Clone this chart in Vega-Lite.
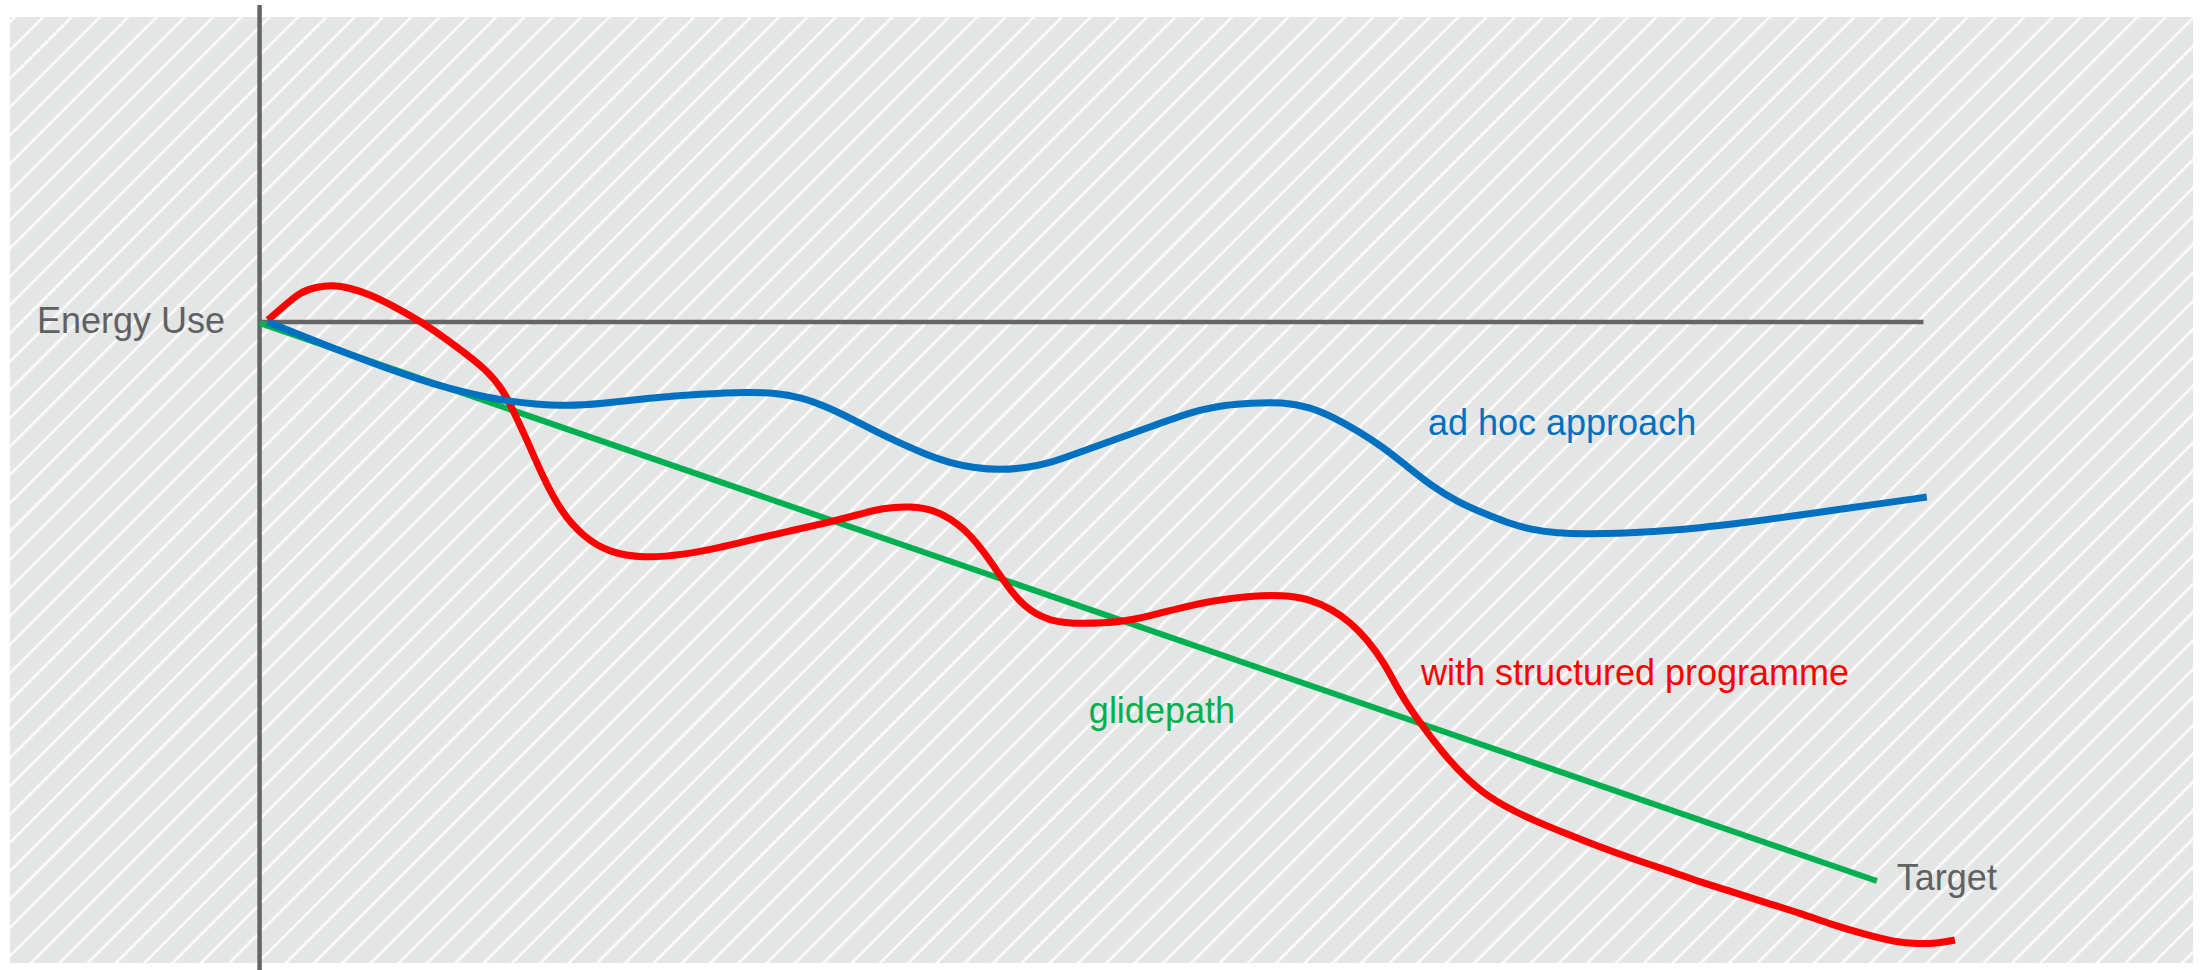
{
"$schema": "https://vega.github.io/schema/vega-lite/v6.json",
"width": 2183,
"height": 946,
"autosize": {"type": "none"},
"padding": {"left": 10, "top": 17, "right": 10, "bottom": 7},
"background": "#ffffff",
"config": {"view": {"stroke": null}},
"datasets": {
"frame": [{"id": 1}],
"curves": [
{"series":"glidepath","x":0.02,"y":99.8},
{"series":"glidepath","x":97.2,"y":0},
{"series":"ad hoc approach","x":0.5,"y":100.0},
{"series":"ad hoc approach","x":2.43,"y":97.67},
{"series":"ad hoc approach","x":4.41,"y":95.35},
{"series":"ad hoc approach","x":6.45,"y":93.02},
{"series":"ad hoc approach","x":8.44,"y":90.88},
{"series":"ad hoc approach","x":10.42,"y":88.91},
{"series":"ad hoc approach","x":12.46,"y":87.3},
{"series":"ad hoc approach","x":14.45,"y":86.05},
{"series":"ad hoc approach","x":16.43,"y":85.33},
{"series":"ad hoc approach","x":18.47,"y":84.97},
{"series":"ad hoc approach","x":20.46,"y":85.33},
{"series":"ad hoc approach","x":23.46,"y":86.4},
{"series":"ad hoc approach","x":26.47,"y":87.12},
{"series":"ad hoc approach","x":29.47,"y":87.48},
{"series":"ad hoc approach","x":30.97,"y":87.3},
{"series":"ad hoc approach","x":32.48,"y":86.58},
{"series":"ad hoc approach","x":33.98,"y":84.97},
{"series":"ad hoc approach","x":35.48,"y":82.83},
{"series":"ad hoc approach","x":36.98,"y":80.5},
{"series":"ad hoc approach","x":38.49,"y":78.35},
{"series":"ad hoc approach","x":39.99,"y":76.39},
{"series":"ad hoc approach","x":41.49,"y":74.78},
{"series":"ad hoc approach","x":42.99,"y":73.88},
{"series":"ad hoc approach","x":44.5,"y":73.52},
{"series":"ad hoc approach","x":46.0,"y":73.88},
{"series":"ad hoc approach","x":47.5,"y":74.78},
{"series":"ad hoc approach","x":49.0,"y":76.39},
{"series":"ad hoc approach","x":50.5,"y":78.0},
{"series":"ad hoc approach","x":52.01,"y":79.61},
{"series":"ad hoc approach","x":53.51,"y":81.22},
{"series":"ad hoc approach","x":55.01,"y":82.83},
{"series":"ad hoc approach","x":56.51,"y":84.26},
{"series":"ad hoc approach","x":58.02,"y":85.15},
{"series":"ad hoc approach","x":59.52,"y":85.51},
{"series":"ad hoc approach","x":61.5,"y":85.69},
{"series":"ad hoc approach","x":63.12,"y":84.79},
{"series":"ad hoc approach","x":64.51,"y":83.01},
{"series":"ad hoc approach","x":66.01,"y":80.5},
{"series":"ad hoc approach","x":67.51,"y":77.64},
{"series":"ad hoc approach","x":69.01,"y":74.06},
{"series":"ad hoc approach","x":70.52,"y":70.48},
{"series":"ad hoc approach","x":72.02,"y":67.8},
{"series":"ad hoc approach","x":73.52,"y":65.83},
{"series":"ad hoc approach","x":75.02,"y":64.04},
{"series":"ad hoc approach","x":76.53,"y":62.79},
{"series":"ad hoc approach","x":78.03,"y":62.25},
{"series":"ad hoc approach","x":79.53,"y":62.08},
{"series":"ad hoc approach","x":81.75,"y":62.16},
{"series":"ad hoc approach","x":83.56,"y":62.43},
{"series":"ad hoc approach","x":86.56,"y":63.15},
{"series":"ad hoc approach","x":89.57,"y":64.22},
{"series":"ad hoc approach","x":92.57,"y":65.47},
{"series":"ad hoc approach","x":95.58,"y":66.73},
{"series":"ad hoc approach","x":100.2,"y":68.69},
{"series":"with structured programme","x":0.5,"y":100.36},
{"series":"with structured programme","x":1.41,"y":102.68},
{"series":"with structured programme","x":2.43,"y":105.37},
{"series":"with structured programme","x":3.39,"y":106.26},
{"series":"with structured programme","x":4.41,"y":106.62},
{"series":"with structured programme","x":5.43,"y":106.1},
{"series":"with structured programme","x":6.63,"y":104.92},
{"series":"with structured programme","x":8.02,"y":102.9},
{"series":"with structured programme","x":10.06,"y":99.46},
{"series":"with structured programme","x":11.86,"y":95.53},
{"series":"with structured programme","x":13.67,"y":91.41},
{"series":"with structured programme","x":14.63,"y":87.84},
{"series":"with structured programme","x":15.23,"y":84.26},
{"series":"with structured programme","x":16.07,"y":78.89},
{"series":"with structured programme","x":17.03,"y":72.27},
{"series":"with structured programme","x":18.05,"y":66.37},
{"series":"with structured programme","x":19.44,"y":61.54},
{"series":"with structured programme","x":21.06,"y":58.68},
{"series":"with structured programme","x":23.04,"y":57.78},
{"series":"with structured programme","x":25.44,"y":58.32},
{"series":"with structured programme","x":27.85,"y":59.75},
{"series":"with structured programme","x":29.47,"y":61.0},
{"series":"with structured programme","x":31.88,"y":62.61},
{"series":"with structured programme","x":34.28,"y":64.22},
{"series":"with structured programme","x":35.9,"y":65.47},
{"series":"with structured programme","x":37.46,"y":66.73},
{"series":"with structured programme","x":39.09,"y":67.08},
{"series":"with structured programme","x":40.71,"y":66.37},
{"series":"with structured programme","x":42.27,"y":63.33},
{"series":"with structured programme","x":43.47,"y":59.21},
{"series":"with structured programme","x":44.68,"y":53.85},
{"series":"with structured programme","x":45.88,"y":49.02},
{"series":"with structured programme","x":47.5,"y":46.33},
{"series":"with structured programme","x":49.48,"y":45.97},
{"series":"with structured programme","x":51.89,"y":46.33},
{"series":"with structured programme","x":53.51,"y":47.41},
{"series":"with structured programme","x":55.49,"y":49.02},
{"series":"with structured programme","x":57.54,"y":50.27},
{"series":"with structured programme","x":59.52,"y":50.98},
{"series":"with structured programme","x":61.5,"y":51.16},
{"series":"with structured programme","x":63.12,"y":50.45},
{"series":"with structured programme","x":64.51,"y":48.48},
{"series":"with structured programme","x":65.53,"y":46.33},
{"series":"with structured programme","x":66.55,"y":43.3},
{"series":"with structured programme","x":67.63,"y":38.9},
{"series":"with structured programme","x":68.53,"y":33.6},
{"series":"with structured programme","x":69.74,"y":28.26},
{"series":"with structured programme","x":71.12,"y":22.9},
{"series":"with structured programme","x":72.32,"y":18.96},
{"series":"with structured programme","x":73.52,"y":15.74},
{"series":"with structured programme","x":75.02,"y":13.06},
{"series":"with structured programme","x":76.53,"y":10.91},
{"series":"with structured programme","x":78.57,"y":8.41},
{"series":"with structured programme","x":80.55,"y":6.08},
{"series":"with structured programme","x":82.54,"y":3.94},
{"series":"with structured programme","x":84.58,"y":1.97},
{"series":"with structured programme","x":86.56,"y":-0.18},
{"series":"with structured programme","x":88.55,"y":-1.97},
{"series":"with structured programme","x":90.59,"y":-3.94},
{"series":"with structured programme","x":92.57,"y":-5.72},
{"series":"with structured programme","x":94.55,"y":-7.87},
{"series":"with structured programme","x":96.6,"y":-9.66},
{"series":"with structured programme","x":98.28,"y":-10.91},
{"series":"with structured programme","x":99.6,"y":-11.27},
{"series":"with structured programme","x":100.99,"y":-11.09},
{"series":"with structured programme","x":101.89,"y":-10.55}
],
"labels": [
{"series":"axis","label":"Energy Use","x":-2.08,"y":98.03,"align":"right"},
{"series":"ad hoc approach","label":"ad hoc approach","x":70.22,"y":79.79,"align":"left"},
{"series":"with structured programme","label":"with structured programme","x":69.8,"y":35.06,"align":"left"},
{"series":"glidepath","label":"glidepath","x":49.84,"y":28.26,"align":"left"},
{"series":"axis","label":"Target","x":98.4,"y":-1.61,"align":"left"}
]
},
"layer": [
{
"data": {"name": "frame"},
"mark": {"type": "rect", "color": {"gradient": "linear", "x1": -0.017155, "y1": 0, "x2": 1.347095, "y2": 0.5912, "stops": [
{"offset":0,"color":"#e4e5e5"},
{"offset":0.0111,"color":"#e4e5e5"},{"offset":0.012,"color":"#ffffff"},{"offset":0.0129,"color":"#e4e5e5"},
{"offset":0.0191,"color":"#e4e5e5"},{"offset":0.020,"color":"#ffffff"},{"offset":0.0209,"color":"#e4e5e5"},
{"offset":0.0271,"color":"#e4e5e5"},{"offset":0.028,"color":"#ffffff"},{"offset":0.0289,"color":"#e4e5e5"},
{"offset":0.0351,"color":"#e4e5e5"},{"offset":0.036,"color":"#ffffff"},{"offset":0.0369,"color":"#e4e5e5"},
{"offset":0.0431,"color":"#e4e5e5"},{"offset":0.044,"color":"#ffffff"},{"offset":0.0449,"color":"#e4e5e5"},
{"offset":0.0511,"color":"#e4e5e5"},{"offset":0.052,"color":"#ffffff"},{"offset":0.0529,"color":"#e4e5e5"},
{"offset":0.0591,"color":"#e4e5e5"},{"offset":0.060,"color":"#ffffff"},{"offset":0.0609,"color":"#e4e5e5"},
{"offset":0.0671,"color":"#e4e5e5"},{"offset":0.068,"color":"#ffffff"},{"offset":0.0689,"color":"#e4e5e5"},
{"offset":0.0751,"color":"#e4e5e5"},{"offset":0.076,"color":"#ffffff"},{"offset":0.0769,"color":"#e4e5e5"},
{"offset":0.0831,"color":"#e4e5e5"},{"offset":0.084,"color":"#ffffff"},{"offset":0.0849,"color":"#e4e5e5"},
{"offset":0.0911,"color":"#e4e5e5"},{"offset":0.092,"color":"#ffffff"},{"offset":0.0929,"color":"#e4e5e5"},
{"offset":0.0991,"color":"#e4e5e5"},{"offset":0.100,"color":"#ffffff"},{"offset":0.1009,"color":"#e4e5e5"},
{"offset":0.1071,"color":"#e4e5e5"},{"offset":0.108,"color":"#ffffff"},{"offset":0.1089,"color":"#e4e5e5"},
{"offset":0.1151,"color":"#e4e5e5"},{"offset":0.116,"color":"#ffffff"},{"offset":0.1169,"color":"#e4e5e5"},
{"offset":0.1231,"color":"#e4e5e5"},{"offset":0.124,"color":"#ffffff"},{"offset":0.1249,"color":"#e4e5e5"},
{"offset":0.1311,"color":"#e4e5e5"},{"offset":0.132,"color":"#ffffff"},{"offset":0.1329,"color":"#e4e5e5"},
{"offset":0.1391,"color":"#e4e5e5"},{"offset":0.140,"color":"#ffffff"},{"offset":0.1409,"color":"#e4e5e5"},
{"offset":0.1471,"color":"#e4e5e5"},{"offset":0.148,"color":"#ffffff"},{"offset":0.1489,"color":"#e4e5e5"},
{"offset":0.1551,"color":"#e4e5e5"},{"offset":0.156,"color":"#ffffff"},{"offset":0.1569,"color":"#e4e5e5"},
{"offset":0.1631,"color":"#e4e5e5"},{"offset":0.164,"color":"#ffffff"},{"offset":0.1649,"color":"#e4e5e5"},
{"offset":0.1711,"color":"#e4e5e5"},{"offset":0.172,"color":"#ffffff"},{"offset":0.1729,"color":"#e4e5e5"},
{"offset":0.1791,"color":"#e4e5e5"},{"offset":0.180,"color":"#ffffff"},{"offset":0.1809,"color":"#e4e5e5"},
{"offset":0.1871,"color":"#e4e5e5"},{"offset":0.188,"color":"#ffffff"},{"offset":0.1889,"color":"#e4e5e5"},
{"offset":0.1951,"color":"#e4e5e5"},{"offset":0.196,"color":"#ffffff"},{"offset":0.1969,"color":"#e4e5e5"},
{"offset":0.2031,"color":"#e4e5e5"},{"offset":0.204,"color":"#ffffff"},{"offset":0.2049,"color":"#e4e5e5"},
{"offset":0.2111,"color":"#e4e5e5"},{"offset":0.212,"color":"#ffffff"},{"offset":0.2129,"color":"#e4e5e5"},
{"offset":0.2191,"color":"#e4e5e5"},{"offset":0.220,"color":"#ffffff"},{"offset":0.2209,"color":"#e4e5e5"},
{"offset":0.2271,"color":"#e4e5e5"},{"offset":0.228,"color":"#ffffff"},{"offset":0.2289,"color":"#e4e5e5"},
{"offset":0.2351,"color":"#e4e5e5"},{"offset":0.236,"color":"#ffffff"},{"offset":0.2369,"color":"#e4e5e5"},
{"offset":0.2431,"color":"#e4e5e5"},{"offset":0.244,"color":"#ffffff"},{"offset":0.2449,"color":"#e4e5e5"},
{"offset":0.2511,"color":"#e4e5e5"},{"offset":0.252,"color":"#ffffff"},{"offset":0.2529,"color":"#e4e5e5"},
{"offset":0.2591,"color":"#e4e5e5"},{"offset":0.260,"color":"#ffffff"},{"offset":0.2609,"color":"#e4e5e5"},
{"offset":0.2671,"color":"#e4e5e5"},{"offset":0.268,"color":"#ffffff"},{"offset":0.2689,"color":"#e4e5e5"},
{"offset":0.2751,"color":"#e4e5e5"},{"offset":0.276,"color":"#ffffff"},{"offset":0.2769,"color":"#e4e5e5"},
{"offset":0.2831,"color":"#e4e5e5"},{"offset":0.284,"color":"#ffffff"},{"offset":0.2849,"color":"#e4e5e5"},
{"offset":0.2911,"color":"#e4e5e5"},{"offset":0.292,"color":"#ffffff"},{"offset":0.2929,"color":"#e4e5e5"},
{"offset":0.2991,"color":"#e4e5e5"},{"offset":0.300,"color":"#ffffff"},{"offset":0.3009,"color":"#e4e5e5"},
{"offset":0.3071,"color":"#e4e5e5"},{"offset":0.308,"color":"#ffffff"},{"offset":0.3089,"color":"#e4e5e5"},
{"offset":0.3151,"color":"#e4e5e5"},{"offset":0.316,"color":"#ffffff"},{"offset":0.3169,"color":"#e4e5e5"},
{"offset":0.3231,"color":"#e4e5e5"},{"offset":0.324,"color":"#ffffff"},{"offset":0.3249,"color":"#e4e5e5"},
{"offset":0.3311,"color":"#e4e5e5"},{"offset":0.332,"color":"#ffffff"},{"offset":0.3329,"color":"#e4e5e5"},
{"offset":0.3391,"color":"#e4e5e5"},{"offset":0.340,"color":"#ffffff"},{"offset":0.3409,"color":"#e4e5e5"},
{"offset":0.3471,"color":"#e4e5e5"},{"offset":0.348,"color":"#ffffff"},{"offset":0.3489,"color":"#e4e5e5"},
{"offset":0.3551,"color":"#e4e5e5"},{"offset":0.356,"color":"#ffffff"},{"offset":0.3569,"color":"#e4e5e5"},
{"offset":0.3631,"color":"#e4e5e5"},{"offset":0.364,"color":"#ffffff"},{"offset":0.3649,"color":"#e4e5e5"},
{"offset":0.3711,"color":"#e4e5e5"},{"offset":0.372,"color":"#ffffff"},{"offset":0.3729,"color":"#e4e5e5"},
{"offset":0.3791,"color":"#e4e5e5"},{"offset":0.380,"color":"#ffffff"},{"offset":0.3809,"color":"#e4e5e5"},
{"offset":0.3871,"color":"#e4e5e5"},{"offset":0.388,"color":"#ffffff"},{"offset":0.3889,"color":"#e4e5e5"},
{"offset":0.3951,"color":"#e4e5e5"},{"offset":0.396,"color":"#ffffff"},{"offset":0.3969,"color":"#e4e5e5"},
{"offset":0.4031,"color":"#e4e5e5"},{"offset":0.404,"color":"#ffffff"},{"offset":0.4049,"color":"#e4e5e5"},
{"offset":0.4111,"color":"#e4e5e5"},{"offset":0.412,"color":"#ffffff"},{"offset":0.4129,"color":"#e4e5e5"},
{"offset":0.4191,"color":"#e4e5e5"},{"offset":0.420,"color":"#ffffff"},{"offset":0.4209,"color":"#e4e5e5"},
{"offset":0.4271,"color":"#e4e5e5"},{"offset":0.428,"color":"#ffffff"},{"offset":0.4289,"color":"#e4e5e5"},
{"offset":0.4351,"color":"#e4e5e5"},{"offset":0.436,"color":"#ffffff"},{"offset":0.4369,"color":"#e4e5e5"},
{"offset":0.4431,"color":"#e4e5e5"},{"offset":0.444,"color":"#ffffff"},{"offset":0.4449,"color":"#e4e5e5"},
{"offset":0.4511,"color":"#e4e5e5"},{"offset":0.452,"color":"#ffffff"},{"offset":0.4529,"color":"#e4e5e5"},
{"offset":0.4591,"color":"#e4e5e5"},{"offset":0.460,"color":"#ffffff"},{"offset":0.4609,"color":"#e4e5e5"},
{"offset":0.4671,"color":"#e4e5e5"},{"offset":0.468,"color":"#ffffff"},{"offset":0.4689,"color":"#e4e5e5"},
{"offset":0.4751,"color":"#e4e5e5"},{"offset":0.476,"color":"#ffffff"},{"offset":0.4769,"color":"#e4e5e5"},
{"offset":0.4831,"color":"#e4e5e5"},{"offset":0.484,"color":"#ffffff"},{"offset":0.4849,"color":"#e4e5e5"},
{"offset":0.4911,"color":"#e4e5e5"},{"offset":0.492,"color":"#ffffff"},{"offset":0.4929,"color":"#e4e5e5"},
{"offset":0.4991,"color":"#e4e5e5"},{"offset":0.500,"color":"#ffffff"},{"offset":0.5009,"color":"#e4e5e5"},
{"offset":0.5071,"color":"#e4e5e5"},{"offset":0.508,"color":"#ffffff"},{"offset":0.5089,"color":"#e4e5e5"},
{"offset":0.5151,"color":"#e4e5e5"},{"offset":0.516,"color":"#ffffff"},{"offset":0.5169,"color":"#e4e5e5"},
{"offset":0.5231,"color":"#e4e5e5"},{"offset":0.524,"color":"#ffffff"},{"offset":0.5249,"color":"#e4e5e5"},
{"offset":0.5311,"color":"#e4e5e5"},{"offset":0.532,"color":"#ffffff"},{"offset":0.5329,"color":"#e4e5e5"},
{"offset":0.5391,"color":"#e4e5e5"},{"offset":0.540,"color":"#ffffff"},{"offset":0.5409,"color":"#e4e5e5"},
{"offset":0.5471,"color":"#e4e5e5"},{"offset":0.548,"color":"#ffffff"},{"offset":0.5489,"color":"#e4e5e5"},
{"offset":0.5551,"color":"#e4e5e5"},{"offset":0.556,"color":"#ffffff"},{"offset":0.5569,"color":"#e4e5e5"},
{"offset":0.5631,"color":"#e4e5e5"},{"offset":0.564,"color":"#ffffff"},{"offset":0.5649,"color":"#e4e5e5"},
{"offset":0.5711,"color":"#e4e5e5"},{"offset":0.572,"color":"#ffffff"},{"offset":0.5729,"color":"#e4e5e5"},
{"offset":0.5791,"color":"#e4e5e5"},{"offset":0.580,"color":"#ffffff"},{"offset":0.5809,"color":"#e4e5e5"},
{"offset":0.5871,"color":"#e4e5e5"},{"offset":0.588,"color":"#ffffff"},{"offset":0.5889,"color":"#e4e5e5"},
{"offset":0.5951,"color":"#e4e5e5"},{"offset":0.596,"color":"#ffffff"},{"offset":0.5969,"color":"#e4e5e5"},
{"offset":0.6031,"color":"#e4e5e5"},{"offset":0.604,"color":"#ffffff"},{"offset":0.6049,"color":"#e4e5e5"},
{"offset":0.6111,"color":"#e4e5e5"},{"offset":0.612,"color":"#ffffff"},{"offset":0.6129,"color":"#e4e5e5"},
{"offset":0.6191,"color":"#e4e5e5"},{"offset":0.620,"color":"#ffffff"},{"offset":0.6209,"color":"#e4e5e5"},
{"offset":0.6271,"color":"#e4e5e5"},{"offset":0.628,"color":"#ffffff"},{"offset":0.6289,"color":"#e4e5e5"},
{"offset":0.6351,"color":"#e4e5e5"},{"offset":0.636,"color":"#ffffff"},{"offset":0.6369,"color":"#e4e5e5"},
{"offset":0.6431,"color":"#e4e5e5"},{"offset":0.644,"color":"#ffffff"},{"offset":0.6449,"color":"#e4e5e5"},
{"offset":0.6511,"color":"#e4e5e5"},{"offset":0.652,"color":"#ffffff"},{"offset":0.6529,"color":"#e4e5e5"},
{"offset":0.6591,"color":"#e4e5e5"},{"offset":0.660,"color":"#ffffff"},{"offset":0.6609,"color":"#e4e5e5"},
{"offset":0.6671,"color":"#e4e5e5"},{"offset":0.668,"color":"#ffffff"},{"offset":0.6689,"color":"#e4e5e5"},
{"offset":0.6751,"color":"#e4e5e5"},{"offset":0.676,"color":"#ffffff"},{"offset":0.6769,"color":"#e4e5e5"},
{"offset":0.6831,"color":"#e4e5e5"},{"offset":0.684,"color":"#ffffff"},{"offset":0.6849,"color":"#e4e5e5"},
{"offset":0.6911,"color":"#e4e5e5"},{"offset":0.692,"color":"#ffffff"},{"offset":0.6929,"color":"#e4e5e5"},
{"offset":0.6991,"color":"#e4e5e5"},{"offset":0.700,"color":"#ffffff"},{"offset":0.7009,"color":"#e4e5e5"},
{"offset":0.7071,"color":"#e4e5e5"},{"offset":0.708,"color":"#ffffff"},{"offset":0.7089,"color":"#e4e5e5"},
{"offset":0.7151,"color":"#e4e5e5"},{"offset":0.716,"color":"#ffffff"},{"offset":0.7169,"color":"#e4e5e5"},
{"offset":0.7231,"color":"#e4e5e5"},{"offset":0.724,"color":"#ffffff"},{"offset":0.7249,"color":"#e4e5e5"},
{"offset":0.7311,"color":"#e4e5e5"},{"offset":0.732,"color":"#ffffff"},{"offset":0.7329,"color":"#e4e5e5"},
{"offset":0.7391,"color":"#e4e5e5"},{"offset":0.740,"color":"#ffffff"},{"offset":0.7409,"color":"#e4e5e5"},
{"offset":0.7471,"color":"#e4e5e5"},{"offset":0.748,"color":"#ffffff"},{"offset":0.7489,"color":"#e4e5e5"},
{"offset":0.7551,"color":"#e4e5e5"},{"offset":0.756,"color":"#ffffff"},{"offset":0.7569,"color":"#e4e5e5"},
{"offset":0.7631,"color":"#e4e5e5"},{"offset":0.764,"color":"#ffffff"},{"offset":0.7649,"color":"#e4e5e5"},
{"offset":0.7711,"color":"#e4e5e5"},{"offset":0.772,"color":"#ffffff"},{"offset":0.7729,"color":"#e4e5e5"},
{"offset":0.7791,"color":"#e4e5e5"},{"offset":0.780,"color":"#ffffff"},{"offset":0.7809,"color":"#e4e5e5"},
{"offset":0.7871,"color":"#e4e5e5"},{"offset":0.788,"color":"#ffffff"},{"offset":0.7889,"color":"#e4e5e5"},
{"offset":0.7951,"color":"#e4e5e5"},{"offset":0.796,"color":"#ffffff"},{"offset":0.7969,"color":"#e4e5e5"},
{"offset":0.8031,"color":"#e4e5e5"},{"offset":0.804,"color":"#ffffff"},{"offset":0.8049,"color":"#e4e5e5"},
{"offset":0.8111,"color":"#e4e5e5"},{"offset":0.812,"color":"#ffffff"},{"offset":0.8129,"color":"#e4e5e5"},
{"offset":0.8191,"color":"#e4e5e5"},{"offset":0.820,"color":"#ffffff"},{"offset":0.8209,"color":"#e4e5e5"},
{"offset":0.8271,"color":"#e4e5e5"},{"offset":0.828,"color":"#ffffff"},{"offset":0.8289,"color":"#e4e5e5"},
{"offset":0.8351,"color":"#e4e5e5"},{"offset":0.836,"color":"#ffffff"},{"offset":0.8369,"color":"#e4e5e5"},
{"offset":0.8431,"color":"#e4e5e5"},{"offset":0.844,"color":"#ffffff"},{"offset":0.8449,"color":"#e4e5e5"},
{"offset":0.8511,"color":"#e4e5e5"},{"offset":0.852,"color":"#ffffff"},{"offset":0.8529,"color":"#e4e5e5"},
{"offset":0.8591,"color":"#e4e5e5"},{"offset":0.860,"color":"#ffffff"},{"offset":0.8609,"color":"#e4e5e5"},
{"offset":0.8671,"color":"#e4e5e5"},{"offset":0.868,"color":"#ffffff"},{"offset":0.8689,"color":"#e4e5e5"},
{"offset":0.8751,"color":"#e4e5e5"},{"offset":0.876,"color":"#ffffff"},{"offset":0.8769,"color":"#e4e5e5"},
{"offset":0.8831,"color":"#e4e5e5"},{"offset":0.884,"color":"#ffffff"},{"offset":0.8849,"color":"#e4e5e5"},
{"offset":0.8911,"color":"#e4e5e5"},{"offset":0.892,"color":"#ffffff"},{"offset":0.8929,"color":"#e4e5e5"},
{"offset":1,"color":"#e4e5e5"}
]}},
"encoding": {
"x": {"datum": -15, "type": "quantitative", "axis": null, "scale": {"domain": [-15, 116.2], "nice": false, "zero": false}},
"x2": {"datum": 116.2},
"y": {"datum": 154.56, "type": "quantitative", "axis": null, "scale": {"domain": [-14.67, 154.56], "nice": false, "zero": false}},
"y2": {"datum": -14.67}
}
},
{
"data": {"name": "frame"},
"mark": {"type": "rule", "color": "#636567", "strokeWidth": 4.5},
"encoding": {
"x": {"datum": 0, "type": "quantitative", "axis": null},
"y": {"datum": 156.7, "type": "quantitative", "axis": null},
"y2": {"datum": -15.9}
}
},
{
"data": {"name": "frame"},
"mark": {"type": "rule", "color": "#636567", "strokeWidth": 4.5},
"encoding": {
"x": {"datum": 0, "type": "quantitative", "axis": null},
"x2": {"datum": 100},
"y": {"datum": 100, "type": "quantitative", "axis": null}
}
},
{
"data": {"name": "curves"},
"transform": [{"filter": "datum.series === 'glidepath'"}],
"mark": {"type": "line", "strokeWidth": 6},
"encoding": {
"x": {"field": "x", "type": "quantitative", "axis": null},
"y": {"field": "y", "type": "quantitative", "axis": null},
"color": {"field": "series", "type": "nominal", "legend": null, "scale": {"domain": ["glidepath", "with structured programme", "ad hoc approach", "axis"], "range": ["#00b050", "#ff0000", "#0070c0", "#5f6163"]}}
}
},
{
"data": {"name": "curves"},
"transform": [{"filter": "datum.series === 'with structured programme'"}],
"mark": {"type": "line", "strokeWidth": 7, "interpolate": "basis"},
"encoding": {
"x": {"field": "x", "type": "quantitative", "axis": null},
"y": {"field": "y", "type": "quantitative", "axis": null},
"color": {"field": "series", "type": "nominal", "legend": null}
}
},
{
"data": {"name": "curves"},
"transform": [{"filter": "datum.series === 'ad hoc approach'"}],
"mark": {"type": "line", "strokeWidth": 7, "interpolate": "basis"},
"encoding": {
"x": {"field": "x", "type": "quantitative", "axis": null},
"y": {"field": "y", "type": "quantitative", "axis": null},
"color": {"field": "series", "type": "nominal", "legend": null}
}
},
{
"data": {"name": "labels"},
"transform": [{"filter": "datum.align === 'left'"}],
"mark": {"type": "text", "font": "Liberation Sans", "fontSize": 36, "align": "left", "baseline": "alphabetic"},
"encoding": {
"x": {"field": "x", "type": "quantitative", "axis": null},
"y": {"field": "y", "type": "quantitative", "axis": null},
"text": {"field": "label"},
"color": {"field": "series", "type": "nominal", "legend": null}
}
},
{
"data": {"name": "labels"},
"transform": [{"filter": "datum.align === 'right'"}],
"mark": {"type": "text", "font": "Liberation Sans", "fontSize": 36, "align": "right", "baseline": "alphabetic"},
"encoding": {
"x": {"field": "x", "type": "quantitative", "axis": null},
"y": {"field": "y", "type": "quantitative", "axis": null},
"text": {"field": "label"},
"color": {"field": "series", "type": "nominal", "legend": null}
}
}
]
}
